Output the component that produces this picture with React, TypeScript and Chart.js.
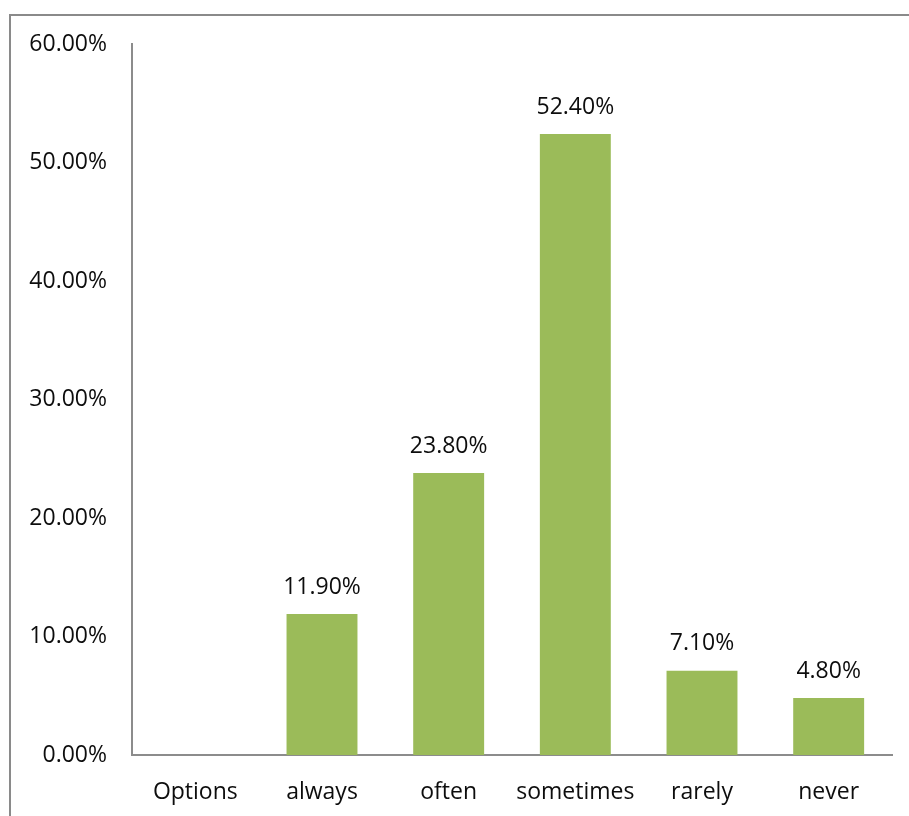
import React, { useEffect, useRef } from "react";
import { Chart, registerables } from "chart.js";

Chart.register(...registerables);

const categories = ["Options", "always", "often", "sometimes", "rarely", "never"];
const percentValues: (number | null)[] = [null, 11.9, 23.8, 52.4, 7.1, 4.8];
const yTicks = [0, 10, 20, 30, 40, 50, 60];

const FONT = "'Open Sans', 'Noto Sans', sans-serif";
const BAR_COLOR = "#9BBB59";
const AXIS_COLOR = "#8c8c8c";

// Outer frame around the whole chart (left and top edges visible)
const framePlugin = {
  id: "frame",
  beforeDraw(chart: any) {
    const { ctx, width, height } = chart;
    ctx.save();
    ctx.fillStyle = "#ffffff";
    ctx.fillRect(0, 0, width, height);
    ctx.strokeStyle = "#8a8a8a";
    ctx.lineWidth = 2;
    ctx.strokeRect(10, 15, width + 20, height + 20);
    ctx.restore();
  },
};

// Percentage labels above each bar
const valueLabelPlugin = {
  id: "valueLabels",
  afterDatasetsDraw(chart: any) {
    const { ctx } = chart;
    const meta = chart.getDatasetMeta(0);
    const data = chart.data.datasets[0].data as (number | null)[];
    ctx.save();
    ctx.font = `23px ${FONT}`;
    ctx.fillStyle = "#0d0d0d";
    ctx.textAlign = "center";
    ctx.textBaseline = "middle";
    meta.data.forEach((bar: any, i: number) => {
      const v = data[i];
      if (v == null) return;
      ctx.fillText(v.toFixed(2) + "%", bar.x, bar.y - 27);
    });
    ctx.restore();
  },
};

export default function App() {
  const canvasRef = useRef<HTMLCanvasElement | null>(null);

  useEffect(() => {
    if (!canvasRef.current) return;
    const chart = new Chart(canvasRef.current, {
      type: "bar",
      data: {
        labels: categories,
        datasets: [
          {
            data: percentValues,
            backgroundColor: BAR_COLOR,
            borderWidth: 0,
            categoryPercentage: 1,
            barPercentage: 0.56,
          },
        ],
      },
      options: {
        animation: false,
        responsive: false,
        maintainAspectRatio: false,
        layout: { padding: { top: 44, right: 17, bottom: 0, left: 0 } },
        plugins: {
          legend: { display: false },
          tooltip: { enabled: false },
        },
        scales: {
          x: {
            grid: { display: false, drawTicks: false },
            border: { display: true, color: AXIS_COLOR, width: 2 },
            ticks: {
              padding: 24,
              color: "#0d0d0d",
              font: { family: FONT, size: 23 },
              maxRotation: 0,
              autoSkip: false,
            },
            afterFit(scale: any) {
              scale.height = 61;
            },
          },
          y: {
            min: 0,
            max: 60,
            grid: { display: false, drawTicks: false },
            border: { display: true, color: AXIS_COLOR, width: 2 },
            afterBuildTicks(scale: any) {
              scale.ticks = yTicks.map((v) => ({ value: v }));
            },
            ticks: {
              padding: 25,
              color: "#0d0d0d",
              font: { family: FONT, size: 23 },
              callback: (v: any) => Number(v).toFixed(2) + "%",
            },
            afterFit(scale: any) {
              scale.width = 132;
            },
          },
        },
      },
      plugins: [framePlugin, valueLabelPlugin],
    });
    return () => chart.destroy();
  }, []);

  return (
    <div style={{ position: "absolute", left: 0, top: 0, width: 909, height: 816, overflow: "hidden" }}>
      <canvas ref={canvasRef} width={909} height={816} style={{ display: "block" }} />
    </div>
  );
}
